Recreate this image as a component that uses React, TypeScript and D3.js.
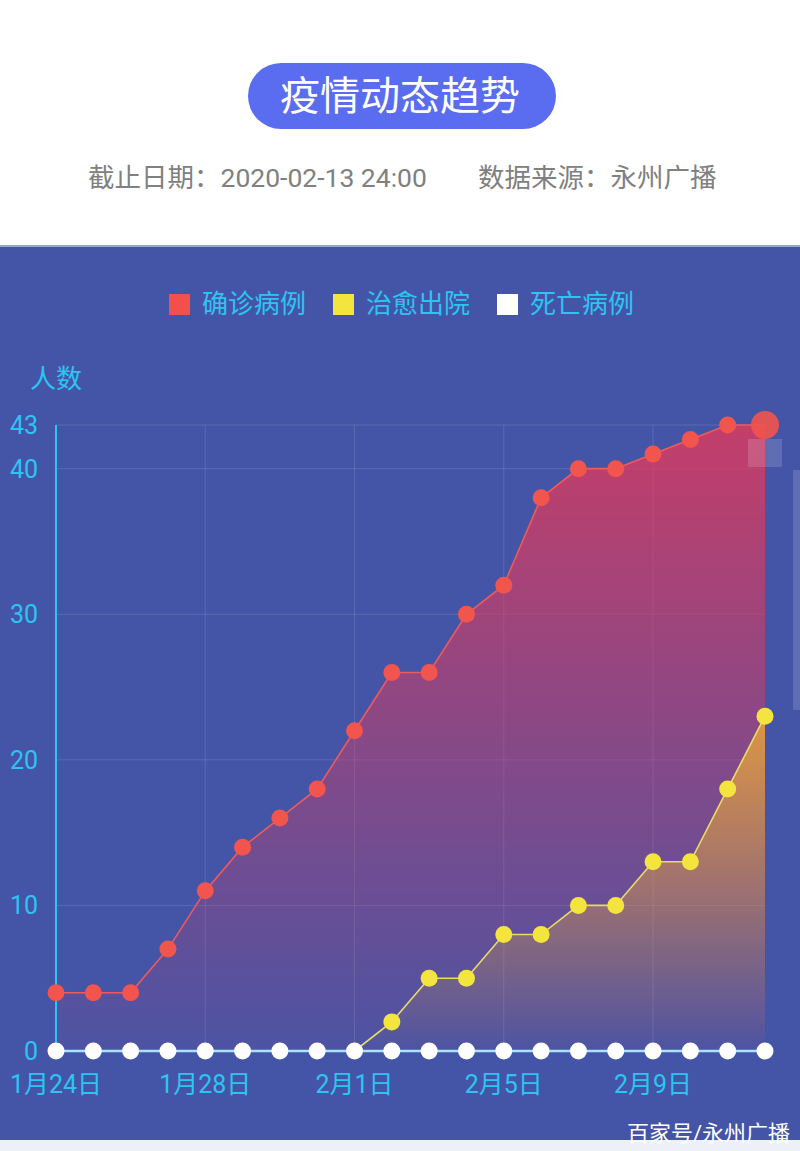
import React from "react";
import * as d3 from "d3";

const dates = ["1月24日","1月25日","1月26日","1月27日","1月28日","1月29日","1月30日","1月31日","2月1日","2月2日","2月3日","2月4日","2月5日","2月6日","2月7日","2月8日","2月9日","2月10日","2月11日","2月12日"];
const confirmed = [4,4,4,7,11,14,16,18,22,26,26,30,32,38,40,40,41,42,43,43];
const cured = [0,0,0,0,0,0,0,0,0,2,5,5,8,8,10,10,13,13,18,23];
const deaths = [0,0,0,0,0,0,0,0,0,0,0,0,0,0,0,0,0,0,0,0];
const yTicks = [0,10,20,30,40,43];
const xTickIdx = [0,4,8,12,16];
const legendItems = [
  { name: "确诊病例", color: "#f2504c" },
  { name: "治愈出院", color: "#f4e53e" },
  { name: "死亡病例", color: "#ffffff" },
];

const W = 800, H = 1151;
const FONT = "Roboto, 'Noto Sans CJK SC', 'Noto Sans', sans-serif";

export default function App() {
  const x = d3.scaleLinear().domain([0, dates.length - 1]).range([56, 765]);
  const y = d3.scaleLinear().domain([0, 43]).range([1051, 425]);
  const idx = dates.map((_, i) => i);

  const line = (vals: number[]) => d3.line<number>().x((i) => x(i)).y((i) => y(vals[i]))(idx) || "";
  const area = (vals: number[]) => d3.area<number>().x((i) => x(i)).y0(y(0)).y1((i) => y(vals[i]))(idx) || "";

  const cyan = "#2ec4f2";
  const last = dates.length - 1;

  return (
    <svg width={W} height={H} style={{ position: "absolute", left: 0, top: 0, fontFamily: FONT }}>
      <defs>
        <linearGradient id="gRed" x1="0" y1={y(43)} x2="0" y2={y(0)} gradientUnits="userSpaceOnUse">
          <stop offset="0" stopColor="#e4385a" stopOpacity={0.8} />
          <stop offset="1" stopColor="#e4385a" stopOpacity={0.05} />
        </linearGradient>
        <linearGradient id="gYel" x1="0" y1={y(23)} x2="0" y2={y(0)} gradientUnits="userSpaceOnUse">
          <stop offset="0" stopColor="#f5b030" stopOpacity={0.75} />
          <stop offset="1" stopColor="#f5b030" stopOpacity={0.0} />
        </linearGradient>
      </defs>
      <rect x={0} y={0} width={W} height={H} fill="#ffffff" />
      {/* title pill */}
      <rect x={248} y={63} width={308} height={66} rx={33} fill="#5a6cf0" />
      <text x={400} y={110} textAnchor="middle" fill="#ffffff" fontSize={40}>疫情动态趋势</text>
      <text x={88} y={187} fill="#808080" fontSize={26.5}>截止日期：2020-02-13 24:00</text>
      <text x={478} y={187} fill="#808080" fontSize={26.5}>数据来源：永州广播</text>

      {/* panel */}
      <rect x={0} y={245} width={W} height={3} fill="#9aa4d6" />
      <rect x={0} y={247} width={W} height={893} fill="#4455a7" />
      <rect x={0} y={1140} width={W} height={11} fill="#eef0f8" />

      {/* legend */}
      {legendItems.map((d, i) => {
        const lx = [169, 333, 497][i];
        return (
          <g key={d.name}>
            <rect x={lx} y={294} width={21} height={21} fill={d.color} />
            <text x={lx + 33} y={313} fill={cyan} fontSize={26}>{d.name}</text>
          </g>
        );
      })}

      {/* y axis title */}
      <text x={30} y={388} fill={cyan} fontSize={26}>人数</text>

      {/* grid */}
      {yTicks.filter((t) => t > 0).map((t) => (
        <line key={"h" + t} x1={56} x2={765} y1={y(t)} y2={y(t)} stroke="#ffffff" strokeOpacity={0.12} />
      ))}
      {xTickIdx.filter((i) => i > 0).map((i) => (
        <line key={"v" + i} x1={x(i)} x2={x(i)} y1={y(43)} y2={y(0)} stroke="#ffffff" strokeOpacity={0.12} />
      ))}

      {/* y ticks */}
      {yTicks.map((t) => (
        <text key={"yt" + t} x={38} y={y(t) + 9} textAnchor="end" fill={cyan} fontSize={25}>{t}</text>
      ))}
      {/* x ticks */}
      {xTickIdx.map((i) => (
        <text key={"xt" + i} x={x(i)} y={1093} textAnchor="middle" fill={cyan} fontSize={25}>{dates[i]}</text>
      ))}

      {/* areas */}
      <path d={area(confirmed)} fill="url(#gRed)" />
      <path d={area(cured)} fill="url(#gYel)" />

      {/* axes */}
      <line x1={56} x2={56} y1={y(43)} y2={y(0)} stroke={cyan} strokeWidth={2} />

      {/* highlight under last point */}
      <rect x={x(last) - 17} y={y(43) + 14} width={34} height={28} fill="#ffffff" fillOpacity={0.15} />
      <rect x={793} y={470} width={7} height={240} fill="#ffffff" fillOpacity={0.15} />

      {/* lines */}
      <path d={line(confirmed)} fill="none" stroke="#f05a5a" strokeWidth={1.6} />
      <path d={d3.line<number>().x((i) => x(i)).y((i) => y(cured[i]))(idx.slice(8)) || ""} fill="none" stroke="#e6dc6a" strokeWidth={1.6} />
      <path d={line(deaths)} fill="none" stroke="#a6e4ff" strokeWidth={2.5} />

      {/* points */}
      {idx.map((i) => (
        <circle key={"r" + i} cx={x(i)} cy={y(confirmed[i])} r={i === last ? 14 : 8.5} fill="#f2544e" fillOpacity={i === last ? 0.9 : 1} />
      ))}
      {idx.filter((i) => cured[i] > 0).map((i) => (
        <circle key={"y" + i} cx={x(i)} cy={y(cured[i])} r={8.5} fill="#f4e53e" />
      ))}
      {idx.map((i) => (
        <circle key={"w" + i} cx={x(i)} cy={y(deaths[i])} r={8.5} fill="#ffffff" />
      ))}

      {/* watermark */}
      <text x={790} y={1141} textAnchor="end" fill="#ffffff" fontSize={22}>百家号/永州广播</text>
    </svg>
  );
}
